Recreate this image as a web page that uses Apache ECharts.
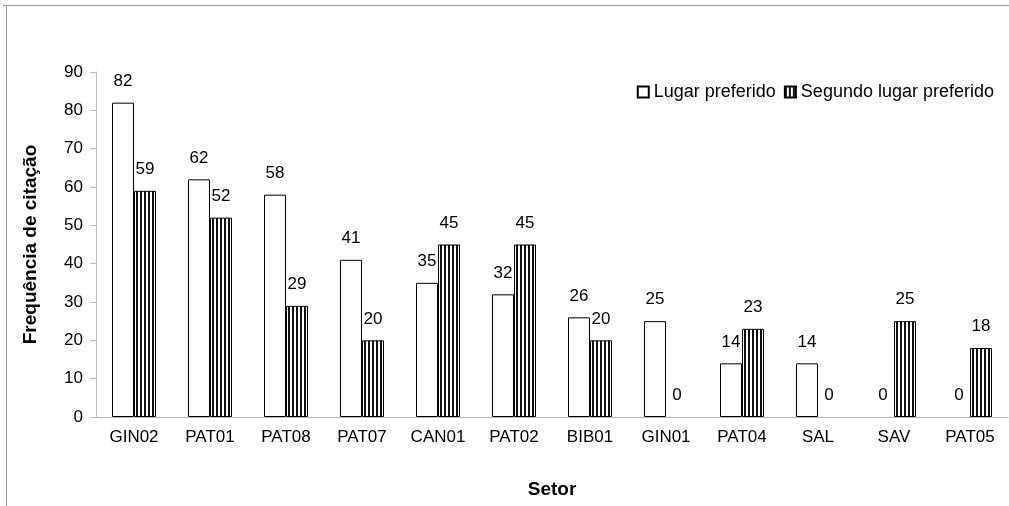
<!DOCTYPE html>
<html>
<head>
<meta charset="utf-8">
<script src="https://cdn.jsdelivr.net/npm/echarts@6/dist/echarts.min.js"></script>
<style>
  html, body { margin: 0; padding: 0; background: #fff; }
  #chart { width: 1009px; height: 506px; }
</style>
</head>
<body>
<div id="chart"></div>
<script>
// setores e frequências
var setores = ['GIN02', 'PAT01', 'PAT08', 'PAT07', 'CAN01', 'PAT02', 'BIB01', 'GIN01', 'PAT04', 'SAL', 'SAV', 'PAT05'];
var lugarPreferido = [82, 62, 58, 41, 35, 32, 26, 25, 14, 14, 0, 0];
var segundoLugar = [59, 52, 29, 20, 45, 45, 20, 0, 23, 0, 25, 18];
var yTicks = [0, 10, 20, 30, 40, 50, 60, 70, 80, 90];

// listras verticais
var cv = document.createElement('canvas');
cv.width = 4; cv.height = 4;
var cx = cv.getContext('2d');
cx.fillStyle = '#fff';
cx.fillRect(0, 0, 4, 4);
cx.fillStyle = '#111';
cx.fillRect(0, 0, 2, 4);

// barras com valor zero nao tem contorno
function semZero(arr) {
    return arr.map(function (v) {
        return v === 0 ? { value: 0, itemStyle: { borderWidth: 0 } } : v;
    });
}

var font = 'Liberation Sans, Arial, sans-serif';
var chart = echarts.init(document.getElementById('chart'));

chart.setOption({
    animation: false,
    textStyle: { fontFamily: font },
    graphic: [
        { type: 'line', shape: { x1: 3, y1: 5.5, x2: 1009, y2: 5.5 }, style: { stroke: '#999', lineWidth: 1 } },
        { type: 'line', shape: { x1: 6.5, y1: 5, x2: 6.5, y2: 506 }, style: { stroke: '#999', lineWidth: 1 } }
    ],
    legend: {
        top: 78,
        right: 10,
        icon: 'rect',
        itemWidth: 11,
        itemHeight: 11,
        itemGap: 8,
        textStyle: { fontSize: 18, color: '#000', fontFamily: font },
        data: ['Lugar preferido', 'Segundo lugar preferido']
    },
    grid: { left: 96, right: 1, top: 72, bottom: 89 },
    xAxis: {
        type: 'category',
        data: setores,
        name: 'Setor',
        nameLocation: 'middle',
        nameGap: 63,
        nameTextStyle: { fontSize: 19, fontWeight: 'bold', color: '#000' },
        axisLine: { lineStyle: { color: '#bbb' } },
        axisTick: { length: 6, lineStyle: { color: '#bbb' } },
        axisLabel: { fontSize: 17, color: '#000', margin: 12 }
    },
    yAxis: {
        type: 'value',
        min: yTicks[0],
        max: yTicks[yTicks.length - 1],
        interval: 10,
        name: 'Frequência de citação',
        nameLocation: 'middle',
        nameGap: 56,
        nameTextStyle: { fontSize: 19, fontWeight: 'bold', color: '#000' },
        axisLine: { show: true, lineStyle: { color: '#bbb' } },
        axisTick: { show: true, length: 6, lineStyle: { color: '#bbb' } },
        splitLine: { show: false },
        axisLabel: { fontSize: 17, color: '#000', margin: 13 }
    },
    series: [
        {
            name: 'Lugar preferido',
            type: 'bar',
            data: semZero(lugarPreferido),
            barWidth: 22,
            barGap: '0%',
            itemStyle: { color: '#fff', borderColor: '#000', borderWidth: 1 },
            label: { show: true, position: 'top', distance: 13, fontSize: 17, color: '#000' }
        },
        {
            name: 'Segundo lugar preferido',
            type: 'bar',
            data: semZero(segundoLugar),
            barWidth: 22,
            barGap: '0%',
            itemStyle: { color: { image: cv, repeat: 'repeat' }, borderColor: '#000', borderWidth: 1 },
            label: { show: true, position: 'top', distance: 13, fontSize: 17, color: '#000' }
        }
    ]
});
</script>
</body>
</html>
